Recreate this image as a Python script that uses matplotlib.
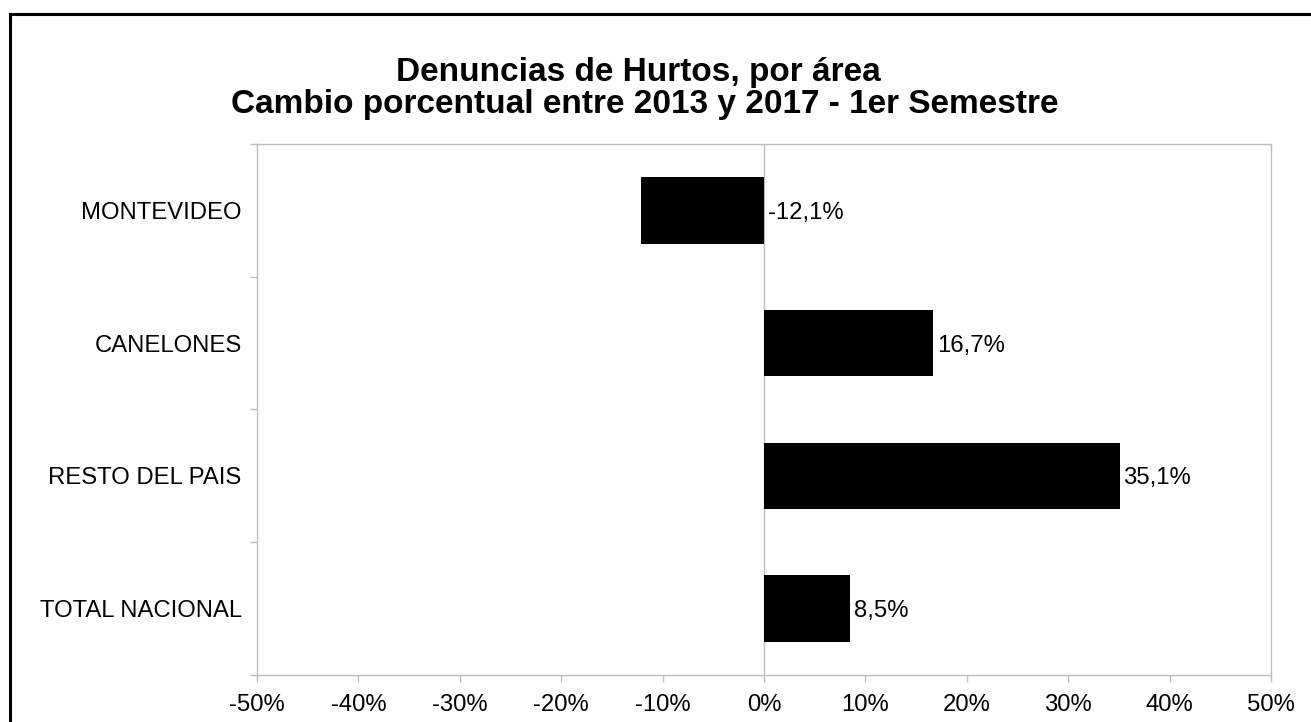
import matplotlib.pyplot as plt
from matplotlib.patches import Rectangle
from matplotlib.ticker import FixedLocator

plt.rcParams['font.family'] = ['Liberation Sans', 'DejaVu Sans']

AXIS_COLOR = '#bdbdbd'

areas = ['MONTEVIDEO', 'CANELONES', 'RESTO DEL PAIS', 'TOTAL NACIONAL']
cambio = [-12.1, 16.7, 35.1, 8.5]
ticks = [-50, -40, -30, -20, -10, 0, 10, 20, 30, 40, 50]

W, H = 1311, 722
fig = plt.figure(figsize=(W / 100, H / 100), dpi=100)
ax = fig.add_axes((257 / W, 1 - 675 / H, (1271 - 257) / W, (675 - 144) / H))

ypos = list(range(len(areas)))
ax.barh(ypos, cambio, height=0.5, color='black')
ax.set_ylim(len(areas) - 0.5, -0.5)
ax.set_xlim(-50, 50)

for y, v in zip(ypos, cambio):
    x = max(v, 0) + 0.35
    ax.text(x, y, f'{v:.1f}%'.replace('.', ','), va='center_baseline', ha='left', fontsize=17.2)

ax.axvline(0, color=AXIS_COLOR, lw=1.0, zorder=0)

ax.set_xticks(ticks)
ax.set_xticklabels([f'{t}%' for t in ticks], fontsize=17.2)
ax.set_yticks(ypos)
ax.set_yticklabels(areas, fontsize=17.2)
for lbl in ax.get_yticklabels():
    lbl.set_verticalalignment('center_baseline')
ax.yaxis.set_minor_locator(FixedLocator([y - 0.5 for y in ypos] + [len(areas) - 0.5]))
ax.tick_params(axis='y', which='major', length=0, pad=11)
ax.tick_params(axis='y', which='minor', length=5, color=AXIS_COLOR, width=1.0)
ax.tick_params(axis='x', length=5, color=AXIS_COLOR, width=1.0, pad=9)
for s in ax.spines.values():
    s.set_color(AXIS_COLOR)
    s.set_linewidth(1.0)

fig.text(0.487, 1 - 72 / H, 'Denuncias de Hurtos, por área', ha='center', va='center',
         fontsize=24, fontweight='bold')
fig.text(0.492, 1 - 105 / H, 'Cambio porcentual entre 2013 y 2017 - 1er Semestre', ha='center',
         va='center', fontsize=24, fontweight='bold')

fig.patches.append(Rectangle((10 / W, -0.5), 2, 1.5 - 14 / H, transform=fig.transFigure,
                             fill=False, edgecolor='black', lw=2.2))

fig.savefig('out.png', dpi=100)
